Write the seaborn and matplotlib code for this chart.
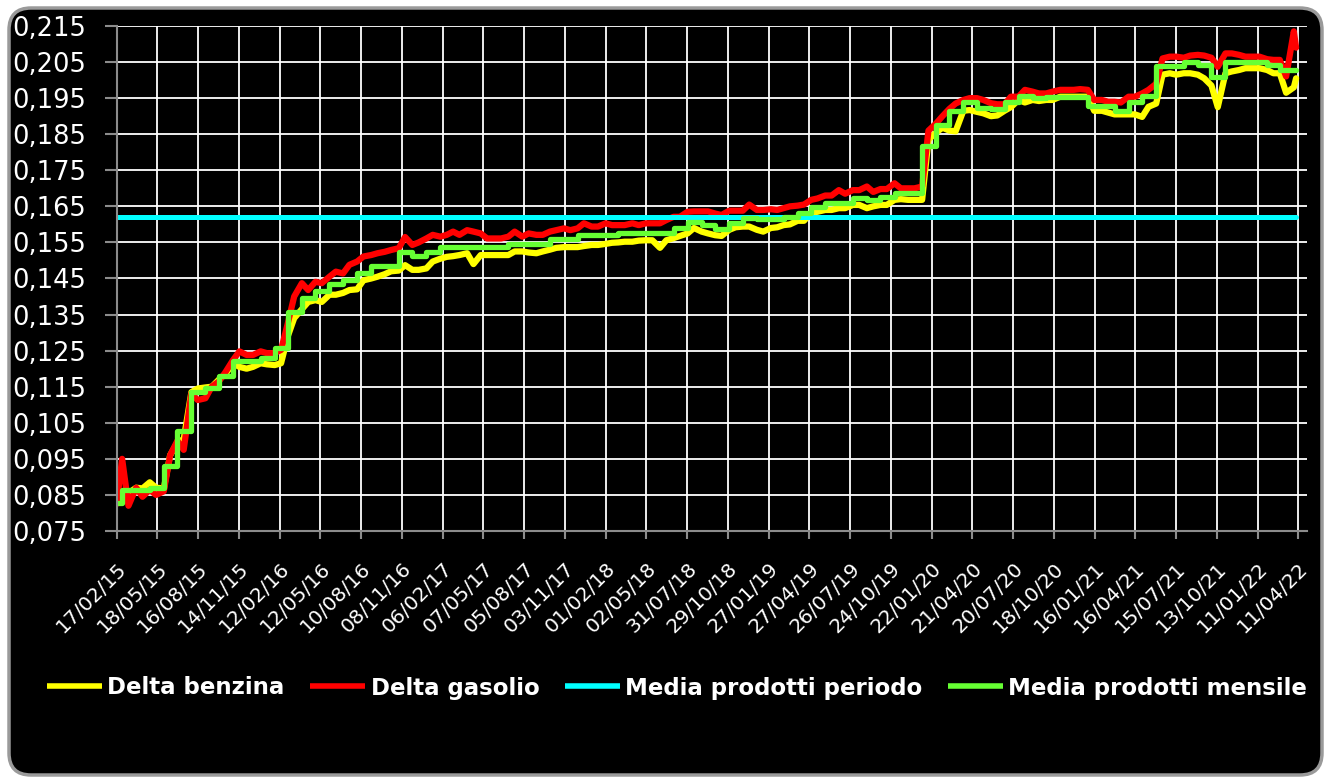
#%%
# --------------------
# pre-processing
# --------------------
import matplotlib
matplotlib.use('Agg')
import matplotlib.pyplot as plt
import matplotlib.dates as mdates
from matplotlib.lines import Line2D
from matplotlib.patches import FancyBboxPatch
from matplotlib.transforms import IdentityTransform
from matplotlib.ticker import MultipleLocator, FuncFormatter
import seaborn as sns
import pandas as pd

#%%
# --------------------
# data
# --------------------
start_date = '2015-02-17'
end_date = '2022-04-06'
media_periodo = 0.162

# readings on 17/02/15, then on the 1st and the 15th of each month, then the last day
delta_benzina = [
    # 2015
    0.0828, 0.086, 0.0855, 0.087, 0.0868, 0.0885, 0.087, 0.0868, 0.096, 0.0995, 0.1005,
    0.1135, 0.1145, 0.1148, 0.115, 0.117, 0.1185, 0.1215, 0.1205, 0.120, 0.1205,
    # 2016
    0.1215, 0.1212, 0.121, 0.1215, 0.129, 0.134, 0.1365, 0.1385, 0.139, 0.1385, 0.1405, 0.1405,
    0.141, 0.1418, 0.142, 0.1445, 0.145, 0.1455, 0.1462, 0.147, 0.1472, 0.1487, 0.1474, 0.1474,
    # 2017
    0.1478, 0.1497, 0.1505, 0.151, 0.1512, 0.1515, 0.152, 0.149, 0.1515, 0.1515, 0.1515, 0.1515,
    0.1515, 0.1525, 0.1525, 0.1522, 0.152, 0.1525, 0.153, 0.1535, 0.1537, 0.1537, 0.1537, 0.154,
    # 2018
    0.1543, 0.1543, 0.1546, 0.1549, 0.155, 0.1552, 0.1552, 0.1555, 0.1556, 0.1556, 0.1535, 0.1556,
    0.1562, 0.1568, 0.1575, 0.159, 0.158, 0.1575, 0.157, 0.1568, 0.1585, 0.1592, 0.1594, 0.1594,
    # 2019
    0.1585, 0.158, 0.159, 0.1592, 0.1598, 0.160, 0.161, 0.161, 0.1632, 0.1635, 0.164, 0.164,
    0.1645, 0.1645, 0.1654, 0.1654, 0.1645, 0.165, 0.1654, 0.1654, 0.1668, 0.167, 0.1668, 0.1668,
    # 2020
    0.1668, 0.1835, 0.1855, 0.1868, 0.186, 0.1858, 0.1915, 0.1917, 0.1912, 0.1908, 0.190, 0.1902,
    0.1915, 0.1925, 0.1945, 0.1938, 0.1945, 0.1942, 0.1945, 0.1945, 0.1954, 0.1954, 0.1954, 0.1954,
    # 2021
    0.1954, 0.1915, 0.1915, 0.191, 0.1905, 0.1905, 0.1905, 0.1905, 0.1898, 0.1926, 0.1935, 0.2015,
    0.2019, 0.2015, 0.2019, 0.2019, 0.2015, 0.2005, 0.1985, 0.1925, 0.2019, 0.2024, 0.2028, 0.2033,
    # 2022
    0.2033, 0.2033, 0.2028, 0.2019, 0.2019, 0.1965, 0.198, 0.2005,
]

delta_gasolio = [
    # 2015
    0.0825, 0.095, 0.082, 0.087, 0.0845, 0.0864, 0.085, 0.086, 0.096, 0.100, 0.0975,
    0.1131, 0.1113, 0.1118, 0.115, 0.1165, 0.119, 0.1224, 0.1248, 0.1238, 0.1238,
    # 2016
    0.1248, 0.1243, 0.1243, 0.1252, 0.1326, 0.140, 0.1437, 0.1418, 0.1441, 0.1437, 0.1455, 0.1469,
    0.1464, 0.1488, 0.1497, 0.1511, 0.1515, 0.152, 0.1524, 0.1529, 0.1534, 0.1565, 0.1543, 0.155,
    # 2017
    0.1561, 0.1571, 0.1566, 0.1571, 0.158, 0.1571, 0.1584, 0.158, 0.1575, 0.1561, 0.1561, 0.1561,
    0.1566, 0.158, 0.1566, 0.1575, 0.1571, 0.1571, 0.158, 0.1584, 0.1589, 0.1584, 0.1589, 0.1603,
    # 2018
    0.1594, 0.1594, 0.1603, 0.1598, 0.1598, 0.1598, 0.1603, 0.1598, 0.1603, 0.1603, 0.1603, 0.1612,
    0.1621, 0.1621, 0.1635, 0.1636, 0.1636, 0.1636, 0.163, 0.1626, 0.1638, 0.1638, 0.1638, 0.1655,
    # 2019
    0.164, 0.164, 0.1642, 0.164, 0.1645, 0.165, 0.1652, 0.1655, 0.1668, 0.1672, 0.168, 0.168,
    0.1695, 0.1685, 0.1695, 0.1695, 0.1705, 0.169, 0.1698, 0.1698, 0.1714, 0.170, 0.170, 0.170,
    # 2020
    0.1705, 0.186, 0.188, 0.190, 0.192, 0.1935, 0.1945, 0.195, 0.195, 0.1945, 0.1936, 0.1933,
    0.1933, 0.1954, 0.1954, 0.1973, 0.1968, 0.1963, 0.1963, 0.1968, 0.1973, 0.1973, 0.1973, 0.1975,
    # 2021
    0.1973, 0.1945, 0.1945, 0.194, 0.194, 0.1938, 0.1954, 0.1954, 0.1963, 0.1973, 0.199, 0.206,
    0.2065, 0.2065, 0.2062, 0.2068, 0.207, 0.2068, 0.2062, 0.2037, 0.2074, 0.2074, 0.207, 0.2065,
    # 2022
    0.2065, 0.2065, 0.2058, 0.2056, 0.2056, 0.201, 0.2135, 0.209,
]

# monthly mean of both products (feb 2015 -> apr 2022)
media_mensile = [
    0.0828, 0.0865, 0.0865, 0.087, 0.093, 0.1027, 0.1134, 0.1146, 0.118, 0.1221, 0.1221,
    0.1229, 0.1256, 0.1356, 0.1397, 0.1416, 0.1434, 0.1446, 0.1466, 0.1485, 0.1485, 0.1524, 0.1512,
    0.1524, 0.1538, 0.1538, 0.1536, 0.1536, 0.1536, 0.1547, 0.1547, 0.1547, 0.156, 0.156, 0.1571,
    0.1571, 0.1571, 0.1577, 0.1577, 0.1577, 0.1577, 0.1589, 0.1608, 0.1598, 0.1587, 0.1603, 0.1617,
    0.1614, 0.1614, 0.162, 0.1631, 0.1649, 0.1658, 0.1658, 0.1672, 0.1668, 0.1675, 0.1688, 0.1688,
    0.1817, 0.1876, 0.1915, 0.194, 0.1922, 0.1919, 0.194, 0.1956, 0.195, 0.1954, 0.1954, 0.1954,
    0.1928, 0.1928, 0.1915, 0.194, 0.1956, 0.2039, 0.2039, 0.2049, 0.2042, 0.2009, 0.2051, 0.2051,
    0.2051, 0.2042, 0.2028, 0.2028,
]

legend_labels = ['Delta benzina', 'Delta gasolio', 'Media prodotti periodo', 'Media prodotti mensile']
colors = ['#ffff00', '#ff0000', '#00ffff', '#66ff33']

#%%
# --------------------
# build frames
# --------------------
daily_dates = (pd.DatetimeIndex([start_date])
               .append(pd.date_range('2015-03-01', '2022-04-01', freq='SMS'))
               .append(pd.DatetimeIndex([end_date])))
month_dates = (pd.DatetimeIndex([start_date])
               .append(pd.date_range('2015-03-01', '2022-04-01', freq='MS'))
               .append(pd.DatetimeIndex([end_date])))

n = len(daily_dates)
df_delta = pd.DataFrame({
    'data': list(daily_dates) * 2,
    'valore': delta_benzina + delta_gasolio,
    'serie': [legend_labels[0]] * n + [legend_labels[1]] * n,
})
df_mese = pd.DataFrame({'data': month_dates, 'valore': media_mensile + [media_mensile[-1]]})
df_periodo = pd.DataFrame({'data': pd.to_datetime([start_date, end_date]),
                           'valore': [media_periodo, media_periodo]})
tick_dates = pd.date_range(start_date, '2022-04-11', freq='90D')

#%%
# --------------------
# plot
# --------------------
sns.set_style('white')
plt.rcParams['font.family'] = ['DejaVu Sans']

W, H = 1325, 777
fig = plt.figure(figsize=(W / 100, H / 100), dpi=100, facecolor='white')

# black rounded background of the chart
panel = FancyBboxPatch((9, 2), 1313, 767, boxstyle='round,pad=0,rounding_size=22',
                       transform=IdentityTransform(), facecolor='black',
                       edgecolor='#9a9a9a', linewidth=2.5, zorder=-10)
fig.patches.append(panel)

ax = fig.add_axes([116.7 / W, 1 - 531 / H, (1306.5 - 116.7) / W, (531 - 26) / H])
ax.set_facecolor('black')
ax.set_zorder(5)

sns.lineplot(data=df_delta, x='data', y='valore', hue='serie',
             palette={legend_labels[0]: colors[0], legend_labels[1]: colors[1]},
             linewidth=4.5, legend=False, errorbar=None, ax=ax)
sns.lineplot(data=df_periodo, x='data', y='valore', color=colors[2], linewidth=3.6, ax=ax)
sns.lineplot(data=df_mese, x='data', y='valore', color=colors[3], linewidth=3.8,
             drawstyle='steps-post', ax=ax)

ax.set_xlim(pd.Timestamp(start_date), pd.Timestamp('2022-04-29'))
ax.set_ylim(0.075, 0.215)
ax.set_xlabel('')
ax.set_ylabel('')

ax.set_xticks(tick_dates)
ax.xaxis.set_major_formatter(mdates.DateFormatter('%d/%m/%y'))
ax.yaxis.set_major_locator(MultipleLocator(0.01, offset=0.005))
ax.yaxis.set_major_formatter(FuncFormatter(lambda v, p: f'{v:.3f}'.replace('.', ',')))

ax.grid(True, color='white', linewidth=1.3)
ax.set_axisbelow(True)
for side in ['top', 'right']:
    ax.spines[side].set_visible(False)
for side in ['left', 'bottom']:
    ax.spines[side].set_color('#8c8c8c')
    ax.spines[side].set_linewidth(1.5)

ax.tick_params(axis='y', left=True, length=9, width=1.5, color='#8c8c8c',
               pad=13, labelsize=18.5, labelcolor='white')
ax.tick_params(axis='x', bottom=True, length=6, width=1.5, color='#8c8c8c',
               pad=14, labelsize=14.5, labelcolor='white')
for lbl in ax.get_xticklabels():
    lbl.set_rotation(45)
    lbl.set_ha('right')
    lbl.set_va('top')
    lbl.set_rotation_mode('anchor')

handles = [Line2D([], [], color=c, linewidth=4, solid_capstyle='butt') for c in colors]
leg = fig.legend(handles, legend_labels, loc='center', bbox_to_anchor=(677 / W, 1 - 688 / H),
                 ncol=4, frameon=False, prop={'weight': 'bold', 'size': 16.5}, labelcolor='white',
                 handlelength=2.4, handletextpad=0.25, columnspacing=1.1)
leg.set_zorder(6)

fig.savefig('out.png', dpi=100, facecolor='white')
